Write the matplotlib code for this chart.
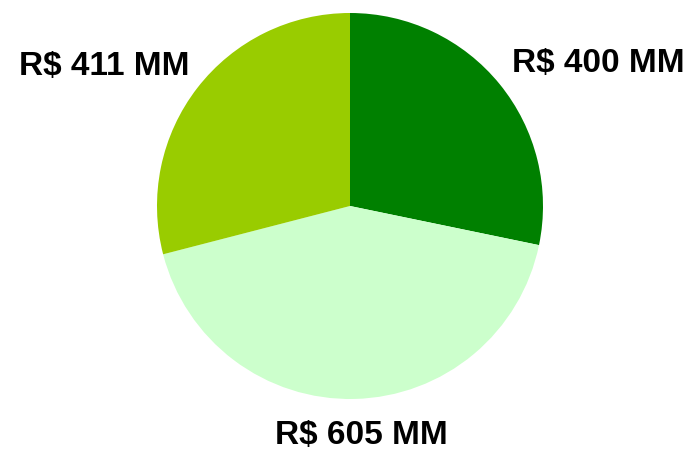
import matplotlib
matplotlib.use("Agg")
import matplotlib.pyplot as plt

values = [400, 605, 411]
labels = ["R$ 400 MM", "R$ 605 MM", "R$ 411 MM"]
colors = ["#008000", "#CCFFCC", "#99CC00"]
label_pos = [(1.285, 0.745), (0.06, -1.185), (-1.275, 0.73)]

fig = plt.figure(figsize=(6.89, 4.52), dpi=100)
cx, cy, r = 350, 207, 193
ax = fig.add_axes([(cx - r) / 689, (452 - cy - r) / 452, 2 * r / 689, 2 * r / 452])

ax.pie(values, colors=colors, startangle=90, counterclock=False, radius=1,
       wedgeprops=dict(linewidth=0))
ax.set_xlim(-1, 1)
ax.set_ylim(-1, 1)
ax.set_aspect("auto")
ax.axis("off")

for lab, (x, y) in zip(labels, label_pos):
    ax.text(x, y, lab, ha="center", va="center", fontsize=24, fontweight="bold",
            family="Liberation Sans", clip_on=False)

fig.savefig("out.png", dpi=100)
